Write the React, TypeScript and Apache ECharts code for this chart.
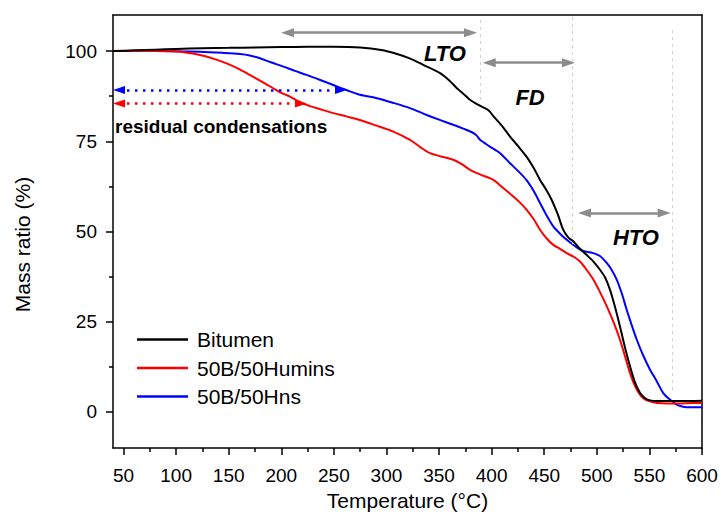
import React, { useEffect, useRef } from 'react';
import * as echarts from 'echarts';

const FONT = "'Liberation Sans', Arial, Helvetica, sans-serif";

// Axis ticks
const xTickLabels = [50, 100, 150, 200, 250, 300, 350, 400, 450, 500, 550, 600];
const xMinorTicks = [75, 125, 175, 225, 275, 325, 375, 425, 475, 525, 575];
const yTickLabels = [0, 25, 50, 75, 100];
const yMinorTicks = [12.5, 37.5, 62.5, 87.5];

// Series names
const seriesNames = ['Bitumen', '50B/50Humins', '50B/50Hns'];
const seriesColors = ['#000000', '#ff0000', '#0000ff'];

// Bitumen
const bitumenT = [40, 60, 80, 100, 125, 150, 175, 200, 225, 250, 275, 295, 310, 322, 335, 351, 360, 367, 373, 379, 386, 392, 397, 401.6, 410, 417.5, 425, 433, 440, 446, 452, 457, 463, 468, 473, 477.6, 484, 490, 497, 503, 508, 512.5, 517, 522, 527, 531.5, 536, 541, 546, 550.6, 558, 566, 580, 600];
const bitumenV = [100, 100.2, 100.4, 100.6, 100.8, 100.9, 101.0, 101.1, 101.2, 101.2, 101.0, 100.3, 99.2, 98.0, 96.2, 93.9, 91.8, 89.7, 88.2, 86.6, 85.3, 84.4, 83.6, 82.0, 79.2, 76.3, 73.7, 70.8, 67.6, 64.3, 61.5, 58.8, 54.7, 50.5, 48.3, 47.3, 45.2, 43.6, 41.6, 39.4, 37.2, 33.9, 29.4, 23.7, 17.6, 12.7, 8.4, 5.3, 3.8, 3.2, 3.0, 3.0, 3.0, 3.1];

// 50B/50Humins
const huminsT = [40, 80, 103.7, 122.7, 135, 148, 160, 170, 181, 192.4, 200, 208.3, 216, 224, 237, 249.5, 262, 274.8, 290, 306.5, 322.4, 332, 341.4, 352, 363.5, 372, 379.4, 390, 401.6, 410, 420.6, 427, 433.3, 440, 446, 452, 458.6, 465, 471.4, 478, 484, 490, 496.7, 503, 509.4, 516, 522, 527, 531.5, 536, 541, 546, 553.7, 562, 572.7, 585, 600];
const huminsV = [100, 100, 99.8, 98.9, 97.9, 96.6, 95.0, 93.4, 91.6, 89.7, 88.4, 87.4, 86.1, 85.1, 83.9, 82.8, 81.9, 80.9, 79.4, 77.7, 75.4, 73.4, 71.7, 70.8, 69.9, 68.6, 67.1, 65.7, 64.3, 62.3, 59.7, 58.0, 56.0, 53.4, 50.5, 48.2, 46.3, 45.2, 44.0, 43.0, 41.7, 39.5, 36.7, 33.2, 29.3, 24.8, 20.0, 15.2, 10.8, 7.4, 4.8, 3.4, 2.7, 2.4, 2.3, 2.4, 2.5];

// 50B/50Hns
const hnsT = [40, 80, 122.7, 145, 160.7, 170, 179.8, 190, 202, 213, 224, 237, 249.5, 262, 274.8, 290, 306, 322.4, 338.2, 350, 363.5, 373, 382.5, 386, 389, 398, 408, 417.5, 425, 433, 440, 446, 452, 458.6, 465, 471.4, 478, 484, 490, 496.7, 503, 509.4, 514, 519, 524, 528.4, 533, 538, 544, 550.6, 557, 563, 570, 576, 581, 585.4, 600];
const hnsV = [100, 100, 99.8, 99.5, 99.2, 98.8, 98.0, 96.9, 95.7, 94.5, 93.4, 92.0, 90.6, 89.2, 87.9, 87.0, 85.7, 84.2, 82.3, 81.0, 79.6, 78.5, 77.3, 76.5, 75.4, 73.6, 71.7, 68.9, 66.8, 64.3, 61.2, 57.9, 54.6, 51.4, 49.4, 47.7, 46.2, 45.0, 44.4, 44.0, 43.2, 41.3, 39.4, 36.6, 32.6, 28.3, 24.2, 20.0, 15.7, 11.7, 8.5, 5.3, 3.3, 2.0, 1.5, 1.3, 1.3];

// Region annotations (temperature, mass ratio)
const regionLabels = ['LTO', 'FD', 'HTO'];
const regionLabelX = [355.6, 436.5, 537.2];
const regionLabelY = [99.4, 87.0, 48.4];
// Double arrows for regions
const regionArrowStart = [205.9, 397.7, 488.3];
const regionArrowEnd = [379.9, 473.1, 564];
const regionArrowLevel = [105.1, 96.8, 55.1];
// Region boundaries
const boundaryT = [389, 477, 572];
const boundaryTop = [108.6, 109.4, 105.8];
const boundaryBottom = [86.5, 45, 5.6];

// Residual condensation arrows
const residualText = 'residual condensations';
const residualTextPos = [41.9, 79.1];
const residualStart = [45.7, 45.7];
const residualEnd = [256.8, 218.7];
const residualLevel = [89.2, 85.5];
const residualColors = ['#0000ff', '#ff0000'];

const zip = (a: number[], b: number[]) => a.map((v, i) => [v, b[i]]);

export default function App() {
  const ref = useRef<HTMLDivElement>(null);
  useEffect(() => {
    if (!ref.current) return;
    const chart = echarts.init(ref.current, null, { renderer: 'svg' });

    const grayArrow = { color: '#8c8c8c', width: 2.5, type: 'solid' };
    const markLineData: any[] = [];
    regionArrowStart.forEach((s, i) => {
      markLineData.push([
        { coord: [s, regionArrowLevel[i]], symbol: 'triangle', symbolSize: [9, 13], lineStyle: grayArrow },
        { coord: [regionArrowEnd[i], regionArrowLevel[i]], symbol: 'triangle', symbolSize: [9, 13], lineStyle: grayArrow },
      ]);
    });
    boundaryT.forEach((t, i) => {
      const ls = { color: '#cfcfcf', width: 1, type: [3, 4] };
      markLineData.push([
        { coord: [t, boundaryTop[i]], symbol: 'none', lineStyle: ls },
        { coord: [t, boundaryBottom[i]], symbol: 'none', lineStyle: ls },
      ]);
    });
    residualStart.forEach((s, i) => {
      const ls = { color: residualColors[i], width: 2.5, type: [2.5, 5.5] };
      const sym = { symbol: 'triangle', symbolSize: [8, 12], itemStyle: { color: residualColors[i] } };
      markLineData.push([
        { coord: [s, residualLevel[i]], ...sym, lineStyle: ls },
        { coord: [residualEnd[i], residualLevel[i]], ...sym, lineStyle: ls },
      ]);
    });

    const annotationData: any[] = regionLabels.map((l, i) => ({
      value: [regionLabelX[i], regionLabelY[i]],
      label: { formatter: l },
    }));
    annotationData.push({
      value: residualTextPos,
      label: {
        formatter: residualText,
        position: 'right',
        distance: 0,
        fontStyle: 'normal',
        fontSize: 19,
      },
    });

    const lineSeries = [
      [bitumenT, bitumenV],
      [huminsT, huminsV],
      [hnsT, hnsV],
    ].map(([t, v], i) => ({
      name: seriesNames[i],
      type: 'line',
      xAxisIndex: 0,
      yAxisIndex: 0,
      data: zip(t, v),
      showSymbol: false,
      symbol: 'none',
      smooth: 0.3,
      color: seriesColors[i],
      lineStyle: { color: seriesColors[i], width: 2 },
      z: 5 - i,
    }));

    const axisLineStyle = { color: '#000', width: 1.5 };

    chart.setOption({
      animation: false,
      grid: { left: 113, top: 15, width: 589, height: 433 },
      legend: {
        data: seriesNames,
        orient: 'vertical',
        left: 137,
        top: 329,
        padding: 0,
        icon: 'rect',
        itemWidth: 51,
        itemHeight: 2.5,
        itemGap: 7.5,
        textStyle: { fontFamily: FONT, fontSize: 21, color: '#000', padding: [0, 0, 0, 4] },
        selectedMode: false,
      },
      xAxis: [
        {
          type: 'value',
          min: 40,
          max: 600,
          position: 'bottom',
          name: 'Temperature (°C)',
          nameLocation: 'middle',
          nameGap: 42,
          nameTextStyle: { fontFamily: FONT, fontSize: 21, color: '#000' },
          axisLine: { show: true, onZero: false, lineStyle: axisLineStyle },
          axisTick: { show: true, customValues: xTickLabels, length: 7, lineStyle: axisLineStyle },
          axisLabel: { customValues: xTickLabels, fontFamily: FONT, fontSize: 19, color: '#000', margin: 18 },
          splitLine: { show: false },
        },
        {
          type: 'value',
          min: 40,
          max: 600,
          position: 'bottom',
          axisLine: { show: false, onZero: false },
          axisTick: { show: true, customValues: xMinorTicks, length: 4, lineStyle: axisLineStyle },
          axisLabel: { show: false },
          splitLine: { show: false },
        },
        {
          type: 'value',
          min: 40,
          max: 600,
          position: 'top',
          axisLine: { show: true, onZero: false, lineStyle: axisLineStyle },
          axisTick: { show: false },
          axisLabel: { show: false },
          splitLine: { show: false },
        },
      ],
      yAxis: [
        {
          type: 'value',
          min: -10,
          max: 110,
          position: 'left',
          name: 'Mass ratio (%)',
          nameLocation: 'middle',
          nameGap: 80,
          nameTextStyle: { fontFamily: FONT, fontSize: 21, color: '#000', padding: [0, 26, 0, 0] },
          axisLine: { show: true, onZero: false, lineStyle: axisLineStyle },
          axisTick: { show: true, customValues: yTickLabels, length: 7, lineStyle: axisLineStyle },
          axisLabel: { customValues: yTickLabels, fontFamily: FONT, fontSize: 19, color: '#000', margin: 16 },
          splitLine: { show: false },
        },
        {
          type: 'value',
          min: -10,
          max: 110,
          position: 'left',
          axisLine: { show: false, onZero: false },
          axisTick: { show: true, customValues: yMinorTicks, length: 4, lineStyle: axisLineStyle },
          axisLabel: { show: false },
          splitLine: { show: false },
        },
        {
          type: 'value',
          min: -10,
          max: 110,
          position: 'right',
          axisLine: { show: true, onZero: false, lineStyle: axisLineStyle },
          axisTick: { show: false },
          axisLabel: { show: false },
          splitLine: { show: false },
        },
      ],
      series: [
        ...lineSeries,
        {
          name: 'annotations',
          type: 'scatter',
          xAxisIndex: 0,
          yAxisIndex: 0,
          symbolSize: 0,
          silent: true,
          z: 10,
          itemStyle: { opacity: 1 },
          data: annotationData,
          label: {
            show: true,
            position: 'inside',
            fontFamily: FONT,
            fontSize: 22,
            fontWeight: 'bold',
            fontStyle: 'italic',
            color: '#000',
            opacity: 1,
            textBorderWidth: 0,
          },
          markLine: {
            silent: true,
            animation: false,
            label: { show: false },
            emphasis: { disabled: true },
            data: markLineData,
          },
        },
      ],
    });
    return () => chart.dispose();
  }, []);
  return (
    <div
      ref={ref}
      style={{ position: 'fixed', left: 0, top: 0, width: 721, height: 522, background: '#fff' }}
    />
  );
}
